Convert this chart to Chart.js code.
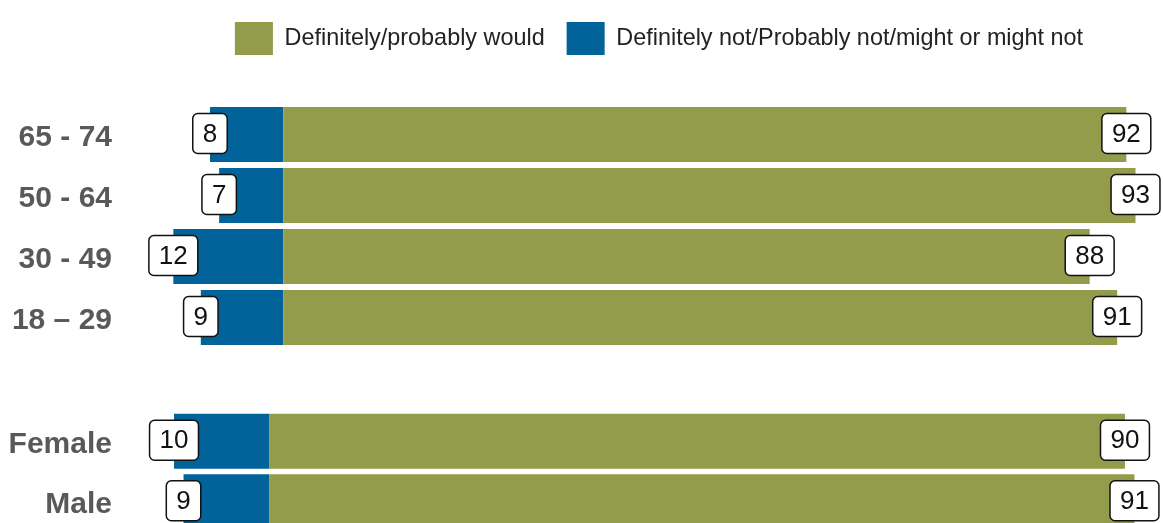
<!DOCTYPE html>
<html lang="en">
<head>
  <meta charset="UTF-8">
  <meta name="viewport" content="width=device-width, initial-scale=1.0">
  <script src="https://cdn.jsdelivr.net/npm/chart.js"></script>
  <title>Chart</title>
  <style>
    html, body { margin: 0; padding: 0; background: #fff; }
    body { width: 1163px; height: 523px; overflow: hidden; position: relative; }
    #ageBox { position: absolute; left: 0; top: 0; width: 1163px; height: 348px; }
    #genderBox { position: absolute; left: 0; top: 411px; width: 1163px; height: 121px; }
  </style>
</head>

<body>
  <div id="ageBox"><canvas id="ageChart"></canvas></div>
  <div id="genderBox"><canvas id="genderChart"></canvas></div>
</body>

<script>
  const wouldLabel = 'Definitely/probably would';
  const wouldNotLabel = 'Definitely not/Probably not/might or might not';

  const ageGroups = ['65 - 74', '50 - 64', '30 - 49', '18 \u2013 29'];
  const ageWould = [92, 93, 88, 91];
  const ageWouldNot = [8, 7, 12, 9];

  const genders = ['Female', 'Male'];
  const genderWould = [90, 91];
  const genderWouldNot = [10, 9];

  const green = '#939c4a';
  const blue = '#02639a';
  const fontFamily = '"Liberation Sans", Arial, sans-serif';

  // white boxed value at the end of every bar
  const boxLabels = {
    id: 'boxLabels',
    afterDatasetsDraw(chart) {
      const ctx = chart.ctx;
      ctx.save();
      ctx.font = '26px ' + fontFamily;
      ctx.textAlign = 'center';
      ctx.textBaseline = 'middle';
      chart.data.datasets.forEach((ds, i) => {
        chart.getDatasetMeta(i).data.forEach((bar, j) => {
          const txt = String(Math.abs(ds.data[j]));
          const w = ctx.measureText(txt).width + 20;
          const h = 40;
          const x = bar.x;
          const y = bar.y - 1;
          ctx.beginPath();
          ctx.roundRect(x - w / 2, y - h / 2, w, h, 5);
          ctx.fillStyle = '#fff';
          ctx.fill();
          ctx.lineWidth = 1.5;
          ctx.strokeStyle = '#111';
          ctx.stroke();
          ctx.fillStyle = '#111';
          ctx.fillText(txt, x, y + 1);
        });
      });
      ctx.restore();
    }
  };

  // legend takes a fixed band above the bars
  const legendSpace = {
    id: 'legendSpace',
    beforeInit(chart) {
      if (!chart.options.plugins.legend.display) return;
      const fit = chart.legend.fit;
      chart.legend.fit = function () {
        fit.call(this);
        this.height = 104;
      };
    }
  };

  function makeChart(id, labels, would, wouldNot, xMin, xMax, catPct, showLegend) {
    return new Chart(document.getElementById(id), {
      type: 'bar',
      data: {
        labels: labels,
        datasets: [
          { label: wouldLabel, data: would, backgroundColor: green, borderWidth: 0 },
          { label: wouldNotLabel, data: wouldNot.map(v => -v), backgroundColor: blue, borderWidth: 0 }
        ]
      },
      options: {
        indexAxis: 'y',
        responsive: true,
        maintainAspectRatio: false,
        animation: false,
        layout: { padding: 0 },
        datasets: { bar: { barPercentage: 1, categoryPercentage: catPct } },
        scales: {
          x: { display: false, stacked: true, min: xMin, max: xMax },
          y: {
            stacked: true,
            grid: { display: false, drawTicks: false },
            border: { display: false },
            afterFit(scale) {
              scale.width = 155;
              scale.paddingTop = 0;
              scale.paddingBottom = 0;
            },
            ticks: {
              padding: 43,
              labelOffset: 3,
              color: '#58595b',
              font: { family: fontFamily, size: 30, weight: 'bold' }
            }
          }
        },
        plugins: {
          tooltip: { enabled: false },
          legend: {
            display: showLegend,
            position: 'top',
            fullSize: false,
            labels: {
              boxWidth: 38,
              boxHeight: 33,
              padding: 22,
              color: '#222',
              font: { family: fontFamily, size: 23.4 }
            }
          }
        }
      },
      plugins: [boxLabels, legendSpace]
    });
  }

  makeChart('ageChart', ageGroups, ageWould, ageWouldNot, -14, 96, 0.9, true);
  makeChart('genderChart', genders, genderWould, genderWouldNot, -12, 94, 0.91, false);
</script>
</html>
